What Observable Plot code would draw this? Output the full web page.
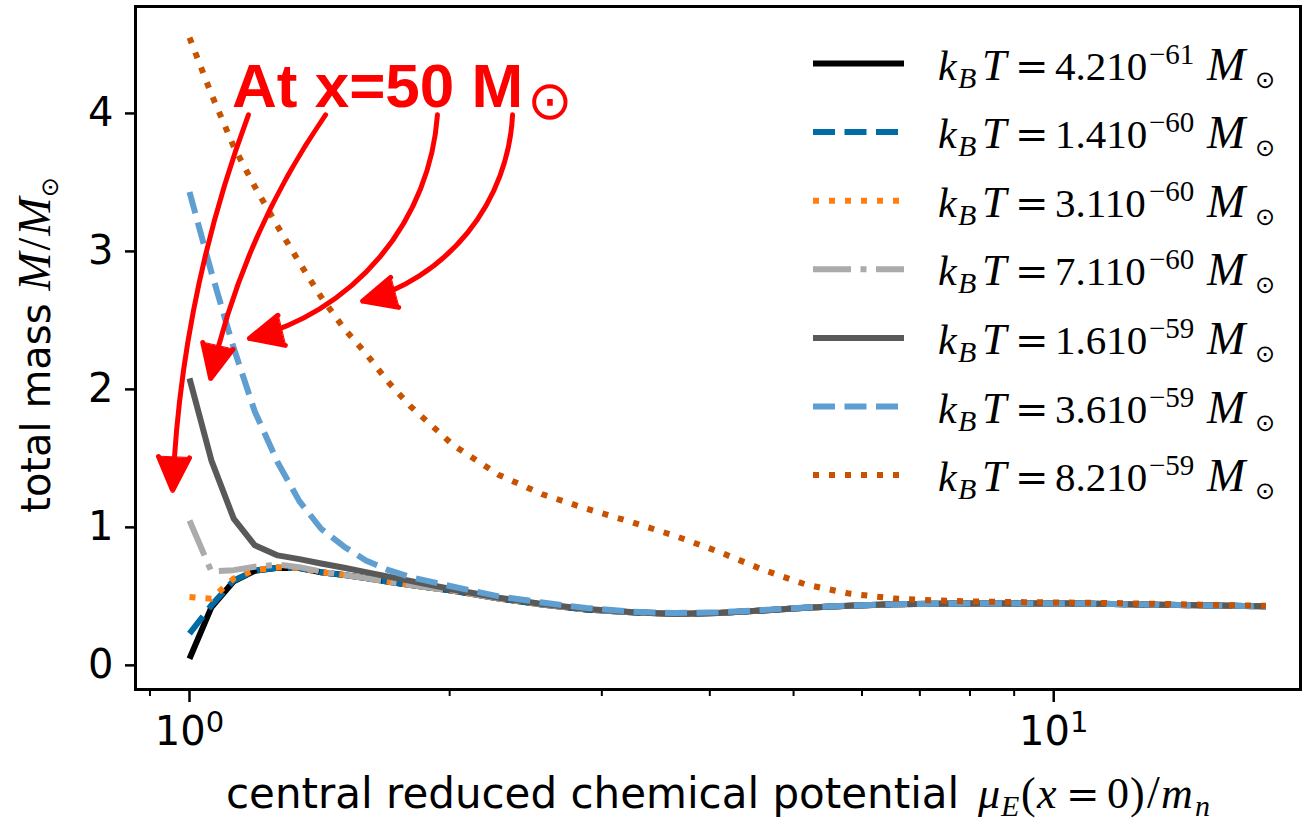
<!DOCTYPE html>
<html><head><meta charset="utf-8">
<script src="https://cdn.jsdelivr.net/npm/d3@7"></script>
<script src="https://cdn.jsdelivr.net/npm/@observablehq/plot@0.6"></script>
<style>
html,body{margin:0;padding:0;background:#fff;}
#chart svg{display:block;}
</style></head><body><div id="chart"></div>
<script>
// ---- data ----
const mu = [1.0, 1.06, 1.125, 1.19, 1.265, 1.34, 1.42, 1.51, 1.60, 1.70, 1.80, 2.02, 2.28, 2.56, 2.88, 3.24, 3.64, 4.09, 4.6, 5.17, 5.8, 6.52, 7.33, 8.24, 9.26, 10.4, 11.7, 13.1, 14.8, 16.6, 17.6];

const mass_42e61 = [0.048, 0.42, 0.61, 0.685, 0.707, 0.705, 0.675, 0.655, 0.632, 0.605, 0.583, 0.54, 0.485, 0.44, 0.405, 0.385, 0.373, 0.38, 0.397, 0.418, 0.432, 0.442, 0.447, 0.448, 0.449, 0.448, 0.445, 0.44, 0.435, 0.43, 0.428];
const mass_14e60 = [0.23, 0.435, 0.615, 0.687, 0.707, 0.705, 0.675, 0.655, 0.632, 0.605, 0.583, 0.54, 0.485, 0.44, 0.405, 0.385, 0.373, 0.38, 0.397, 0.418, 0.432, 0.442, 0.447, 0.448, 0.449, 0.448, 0.445, 0.44, 0.435, 0.43, 0.428];
const mass_31e60 = [0.495, 0.483, 0.63, 0.69, 0.71, 0.706, 0.675, 0.655, 0.632, 0.605, 0.583, 0.54, 0.485, 0.44, 0.405, 0.385, 0.373, 0.38, 0.397, 0.418, 0.432, 0.442, 0.447, 0.448, 0.449, 0.448, 0.445, 0.44, 0.435, 0.43, 0.428];
const mass_71e60 = [1.05, 0.68, 0.69, 0.715, 0.73, 0.712, 0.68, 0.655, 0.632, 0.605, 0.583, 0.54, 0.485, 0.44, 0.405, 0.385, 0.373, 0.38, 0.397, 0.418, 0.432, 0.442, 0.447, 0.448, 0.449, 0.448, 0.445, 0.44, 0.435, 0.43, 0.428];
const mass_16e59 = [2.08, 1.486, 1.063, 0.87, 0.797, 0.77, 0.738, 0.707, 0.676, 0.643, 0.612, 0.55, 0.49, 0.445, 0.408, 0.386, 0.373, 0.38, 0.397, 0.418, 0.432, 0.442, 0.447, 0.448, 0.449, 0.448, 0.445, 0.44, 0.435, 0.43, 0.428];
const mass_36e59 = [3.43, 2.85, 2.3, 1.84, 1.47, 1.19, 0.99, 0.86, 0.76, 0.69, 0.64, 0.57, 0.50, 0.455, 0.415, 0.39, 0.379, 0.385, 0.401, 0.42, 0.433, 0.443, 0.447, 0.448, 0.449, 0.448, 0.445, 0.44, 0.435, 0.43, 0.428];
const mass_82e59 = [4.55, 4.14, 3.76, 3.47, 3.18, 2.92, 2.67, 2.44, 2.26, 2.05, 1.88, 1.595, 1.38, 1.24, 1.135, 1.04, 0.94, 0.825, 0.695, 0.585, 0.52, 0.485, 0.47, 0.462, 0.458, 0.455, 0.452, 0.446, 0.44, 0.434, 0.432];

const seriesMantissa = ["4.2", "1.4", "3.1", "7.1", "1.6", "3.6", "8.2"];
const seriesExponent = ["\u221261", "\u221260", "\u221260", "\u221260", "\u221259", "\u221259", "\u221259"];
const seriesValues = [mass_42e61, mass_14e60, mass_31e60, mass_71e60, mass_16e59, mass_36e59, mass_82e59];
const seriesColors = ["#000000", "#006BA4", "#FF800E", "#ABABAB", "#595959", "#5F9ED1", "#C85200"];
const seriesStyles = ["solid", "dashed", "dotted", "dashdot", "solid", "dashed", "dotted"];

const yTicks = [0, 1, 2, 3, 4];
const xMajorTicks = [1, 10];
const xMajorExp = ["0", "1"];
const xMinorTicks = [0.9, 2, 3, 4, 5, 6, 7, 8, 9];

// annotation arrows (data coordinates)
const arrowStartMu = [1.170, 1.437, 1.936, 2.365];
const arrowStartMass = [3.99, 3.99, 3.99, 3.99];
const arrowEndMu = [0.956, 1.058, 1.173, 1.586];
const arrowEndMass = [1.268, 2.08, 2.37, 2.64];
const arrowBend = [-9, -11, 36, 36];
const annotText = "At x=50 M";
const annotMu = 1.1215, annotMass = 4.04;

// ---- build ----
const rows = [];
seriesValues.forEach((vals, s) => vals.forEach((m, i) => rows.push({mu: mu[i], mass: m, s})));
const dashes = {solid: null, dashed: "22,9.5", dotted: "6,10", dashdot: "38,9.5,6,9.5"};

const lineMarks = seriesValues.map((v, s) => Plot.line(rows.filter(r => r.s === s), {
  x: "mu", y: "mass", stroke: seriesColors[s], strokeWidth: 6,
  strokeDasharray: dashes[seriesStyles[s]], strokeLinecap: "butt", strokeLinejoin: "round"
}));

const arrows = arrowStartMu.map((_, i) => ({x1: arrowStartMu[i], y1: arrowStartMass[i], x2: arrowEndMu[i], y2: arrowEndMass[i]}));
const arrowMarks = arrows.map((a, i) => Plot.arrow([a], {
  x1: "x1", y1: "y1", x2: "x2", y2: "y2", bend: arrowBend[i],
  stroke: "red", strokeWidth: 5, headLength: 11, headAngle: 50
}));

const chart = Plot.plot({
  width: 1303, height: 820,
  marginLeft: 135, marginRight: 3, marginTop: 6, marginBottom: 131,
  style: {fontFamily: "DejaVu Sans", fontSize: "40px", background: "white", color: "black", overflow: "visible"},
  x: {type: "log", domain: [0.866, 19.3], axis: null},
  y: {type: "linear", domain: [-0.175, 4.775], axis: null},
  marks: [
    ...lineMarks,
    ...arrowMarks,
    Plot.frame({stroke: "black", strokeWidth: 3}),
    Plot.axisY({ticks: yTicks, tickSize: 10, tickPadding: 12, tickFormat: d => String(d), strokeWidth: 2.5, label: null, fontSize: 40}),
    Plot.axisX({ticks: xMajorTicks, tickSize: 13, tickPadding: 14, tickFormat: d => "10^" + xMajorExp[xMajorTicks.indexOf(d)], strokeWidth: 2.5, label: null, fontSize: 40}),
    Plot.axisX({ticks: xMinorTicks, tickSize: 7, tickFormat: () => "", strokeWidth: 2, label: null})
  ]
});
document.getElementById("chart").appendChild(chart);

const svg = d3.select(chart);
const X = chart.scale("x"), Y = chart.scale("y");

// x tick labels as 10^n
svg.selectAll("text").each(function() {
  const t = this.textContent;
  if (t && t.startsWith("10^")) {
    const e = t.slice(3);
    const sel = d3.select(this);
    sel.text("");
    sel.append("tspan").text("10");
    sel.append("tspan").attr("font-size", 29).attr("dy", "-0.45em").text(e);
  }
});

// filled arrowheads
svg.selectAll('g[aria-label="arrow"] path').each(function() {
  const d = this.getAttribute("d");
  const nums = d.match(/-?\d+(\.\d+)?(e-?\d+)?/g).map(Number);
  const n = nums.length;
  const [hx1, hy1, tx, ty, hx2, hy2] = nums.slice(n - 6);
  d3.select(this.parentNode).append("path")
    .attr("d", `M${hx1},${hy1}L${tx},${ty}L${hx2},${hy2}Z`)
    .attr("fill", "red").attr("stroke", "red").attr("stroke-width", 1);
});

const extra = svg.append("g").attr("text-anchor", "start");

// annotation text
const an = extra.append("text")
  .attr("x", X.apply(annotMu)).attr("y", Y.apply(annotMass))
  .attr("fill", "red").attr("font-family", "Liberation Sans, Arial, sans-serif")
  .attr("font-weight", "bold").attr("font-size", 62);
an.append("tspan").text(annotText);
an.append("tspan").attr("font-family", "DejaVu Sans").attr("font-weight", "normal")
  .attr("font-size", 54).attr("dx", 4).attr("dy", 12).text("\u2299");

// legend
const legendX0 = 813, legendX1 = 904, legendY0 = 63.5, legendDY = 68.6;
seriesMantissa.forEach((m, i) => {
  const y = legendY0 + i * legendDY;
  extra.append("line").attr("x1", legendX0).attr("x2", legendX1).attr("y1", y).attr("y2", y)
    .attr("stroke", seriesColors[i]).attr("stroke-width", 6)
    .attr("stroke-dasharray", dashes[seriesStyles[i]]).attr("stroke-linecap", "butt");
  const b = y + 16;
  const g = extra.append("g").attr("font-family", "Liberation Serif, serif").attr("fill", "black");
  g.append("text").attr("x", 938).attr("y", b).attr("font-size", 42).attr("font-style", "italic").text("k");
  g.append("text").attr("x", 958).attr("y", b + 8).attr("font-size", 30).attr("font-style", "italic").text("B");
  g.append("text").attr("x", 982).attr("y", b).attr("font-size", 44).attr("font-style", "italic").text("T");
  g.append("text").attr("x", 1015).attr("y", b).attr("font-size", 40).attr("font-family", "DejaVu Serif").text("=");
  g.append("text").attr("x", 1055).attr("y", b).attr("font-size", 41).text(m + "10");
  g.append("text").attr("x", 1149).attr("y", b - 16).attr("font-size", 29).text(seriesExponent[i]);
  g.append("text").attr("x", 1207).attr("y", b).attr("font-size", 46).attr("font-style", "italic").text("M");
  g.append("text").attr("x", 1255).attr("y", b + 8).attr("font-size", 24).attr("font-family", "DejaVu Sans").text("\u2299");
});

// x label
const xl = extra.append("g").attr("fill", "black");
xl.append("text").attr("x", 226).attr("y", 808).attr("font-family", "DejaVu Sans").attr("font-size", 42)
  .text("central reduced chemical potential");
const mathX = [[978, 0, "\u03bc", 44, true], [1001, 8, "E", 30, true], [1021, 0, "(", 44, false], [1037, 0, "x", 44, true],
  [1066, 0, "=", 40, false], [1107, 0, "0", 44, false], [1130, 0, ")", 44, false], [1147, 0, "/", 46, false],
  [1161, 0, "m", 44, true], [1195, 8, "n", 30, true]];
mathX.forEach(([x, dy, t, fs, it]) => {
  xl.append("text").attr("x", x).attr("y", 808 + dy).attr("font-size", fs)
    .attr("font-family", t === "=" ? "DejaVu Serif" : "Liberation Serif, serif")
    .attr("font-style", it ? "italic" : "normal").text(t);
});

// y label
const yl = extra.append("text").attr("transform", "translate(50,345) rotate(-90)")
  .attr("text-anchor", "middle").attr("fill", "black").attr("font-family", "DejaVu Sans").attr("font-size", 40);
yl.append("tspan").text("total mass ");
yl.append("tspan").attr("font-family", "Liberation Serif, serif").attr("font-style", "italic").attr("font-size", 46).text("M");
yl.append("tspan").attr("font-family", "Liberation Serif, serif").attr("font-size", 46).attr("dx", 2).text("/");
yl.append("tspan").attr("font-family", "Liberation Serif, serif").attr("font-style", "italic").attr("font-size", 46).attr("dx", 2).text("M");
yl.append("tspan").attr("font-size", 24).attr("dy", 8).text("\u2299");
</script></body></html>
